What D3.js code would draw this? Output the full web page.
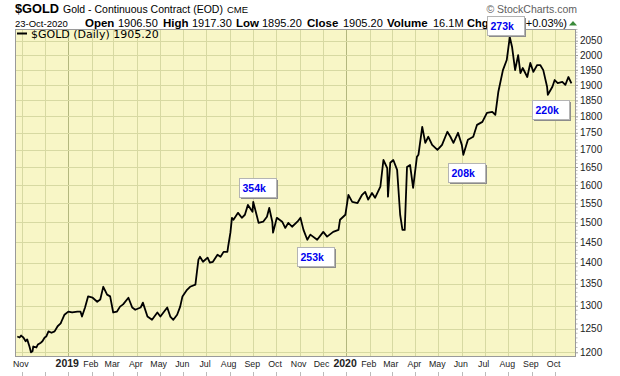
<!DOCTYPE html>
<html><head><meta charset="utf-8">
<script src="https://cdn.jsdelivr.net/npm/d3@7"></script>
<style>body{margin:0;background:#fff}svg{display:block}</style>
</head><body>
<svg id="c" width="620" height="376"></svg>
<script>
// ---- data ----
const dates = ["2018-10-26","2018-10-29","2018-10-31","2018-11-03","2018-11-06","2018-11-08","2018-11-11","2018-11-13","2018-11-15","2018-11-16","2018-11-20","2018-11-22","2018-11-26","2018-11-28","2018-12-01","2018-12-03","2018-12-06","2018-12-10","2018-12-14","2018-12-18","2018-12-22","2018-12-24","2018-12-27",
"2019-01-01","2019-01-06","2019-01-13","2019-01-17","2019-01-19","2019-01-23","2019-01-27","2019-02-02","2019-02-08","2019-02-12","2019-02-15","2019-02-16","2019-02-21","2019-02-25","2019-03-01","2019-03-06","2019-03-10","2019-03-14","2019-03-21","2019-03-26","2019-03-30","2019-04-06","2019-04-09","2019-04-15","2019-04-21","2019-04-28","2019-05-02","2019-05-06","2019-05-11","2019-05-15","2019-05-19","2019-05-24","2019-05-28","2019-05-31","2019-06-06","2019-06-10","2019-06-17","2019-06-19","2019-06-21","2019-06-23","2019-06-27","2019-07-03","2019-07-06","2019-07-10","2019-07-16","2019-07-20","2019-07-24","2019-07-29","2019-07-30","2019-08-02","2019-08-04","2019-08-06","2019-08-12","2019-08-17","2019-08-21","2019-08-25","2019-08-31","2019-09-01","2019-09-06","2019-09-08","2019-09-14","2019-09-19","2019-09-22","2019-09-26","2019-09-27","2019-10-02","2019-10-09","2019-10-13","2019-10-17","2019-10-22","2019-10-29","2019-11-02","2019-11-06","2019-11-11","2019-11-15","2019-11-24","2019-12-02","2019-12-07","2019-12-15","2019-12-22","2019-12-24","2019-12-31",
"2020-01-04","2020-01-09","2020-01-16","2020-01-22","2020-01-26","2020-01-30","2020-02-04","2020-02-08","2020-02-15","2020-02-19","2020-02-24","2020-02-25","2020-02-28","2020-03-03","2020-03-08","2020-03-12","2020-03-15","2020-03-18","2020-03-21","2020-03-25","2020-03-29","2020-04-03","2020-04-05","2020-04-10","2020-04-14","2020-04-18","2020-04-23","2020-04-30","2020-05-06","2020-05-13","2020-05-17","2020-05-21","2020-05-27","2020-06-01","2020-06-03","2020-06-09","2020-06-16","2020-06-21","2020-06-28","2020-07-04","2020-07-11","2020-07-15","2020-07-19","2020-07-25","2020-07-30","2020-08-03","2020-08-06","2020-08-10","2020-08-14","2020-08-17","2020-08-20","2020-08-26","2020-08-30","2020-09-03","2020-09-08","2020-09-12","2020-09-16","2020-09-21","2020-09-22","2020-09-28","2020-10-01","2020-10-05","2020-10-11","2020-10-15","2020-10-19","2020-10-23"];
const closes = [1233,1231,1235,1231,1223,1227,1212,1200,1202,1212,1210,1216,1220,1223,1231,1233,1244,1241,1244,1255,1261,1269,1280,
1287,1285,1287,1287,1276,1296,1321,1318,1309,1314,1336,1343,1325,1321,1285,1287,1298,1303,1318,1296,1291,1296,1307,1276,1269,1285,1276,1285,1296,1276,1269,1280,1298,1321,1336,1343,1348,1378,1407,1414,1402,1412,1400,1402,1419,1414,1426,1426,1439,1474,1512,1507,1525,1512,1520,1546,1528,1554,1515,1499,1502,1515,1538,1502,1474,1512,1502,1486,1499,1489,1502,1512,1481,1456,1469,1456,1476,1464,1476,1481,1507,1520,
1573,1554,1551,1573,1581,1560,1578,1565,1595,1670,1647,1568,1662,1670,1642,1520,1481,1481,1650,1656,1592,1679,1685,1768,1720,1738,1714,1699,1714,1753,1738,1720,1750,1714,1685,1729,1738,1774,1783,1811,1814,1805,1878,1949,1983,2063,2028,1949,2000,1939,1956,1926,1973,1943,1966,1966,1949,1894,1868,1894,1916,1906,1910,1900,1926,1905.2];

const yTicks = [1200,1250,1300,1350,1400,1450,1500,1550,1600,1650,1700,1750,1800,1850,1900,1950,2000,2050];
const monthTicks = ["2018-11-01","2018-12-01","2019-01-01","2019-02-01","2019-03-01","2019-04-01","2019-05-01","2019-06-01","2019-07-01","2019-08-01","2019-09-01","2019-10-01","2019-11-01","2019-12-01","2020-01-01","2020-02-01","2020-03-01","2020-04-01","2020-05-01","2020-06-01","2020-07-01","2020-08-01","2020-09-01","2020-10-01"];
const monthLabels = ["Nov","","2019","Feb","Mar","Apr","May","Jun","Jul","Aug","Sep","Oct","Nov","Dec","2020","Feb","Mar","Apr","May","Jun","Jul","Aug","Sep","Oct"];

const volLabels = ["354k","253k","208k","273k","220k"];
const volDates  = ["2019-09-06","2019-11-22","2020-06-07","2020-07-28","2020-09-25"];
const volLevels = [1568,1438,1662,2070,1852];
const volSides  = ["above","below","below","above","below"];

// ---- layout ----
const L=15, R=576, T=29, B=357;
const parse = d3.utcParse("%Y-%m-%d");
const data = dates.map((d,i)=>({date:parse(d), v:closes[i]}));

const svg = d3.select("#c");
const x = d3.scaleUtc().domain([parse("2018-10-23"), parse("2020-10-29")]).range([L,R]);
const y = d3.scaleLog().domain([1200,2050]).range([352.3,40.7]);

const BG="#f8f6c6", GRID="#d7d9a2", YEARGRID="#b3b77e";

svg.append("rect").attr("x",L).attr("y",T).attr("width",R-L).attr("height",B-T).attr("fill",BG);

// grid
const mt = monthTicks.map(parse);
svg.append("g").selectAll("line").data(mt).join("line")
  .attr("x1",d=>Math.round(x(d))+0.5).attr("x2",d=>Math.round(x(d))+0.5)
  .attr("y1",T).attr("y2",B)
  .attr("stroke",d=>d.getUTCMonth()===0?YEARGRID:GRID).attr("stroke-width",1);
svg.append("g").selectAll("line").data(yTicks).join("line")
  .attr("x1",L).attr("x2",R)
  .attr("y1",d=>Math.round(y(d))+0.5).attr("y2",d=>Math.round(y(d))+0.5)
  .attr("stroke",GRID).attr("stroke-width",1);

// border
svg.append("rect").attr("x",L+0.5).attr("y",T+0.5).attr("width",R-L-1).attr("height",B-T-1)
  .attr("fill","none").attr("stroke","#9a9a9a");

// right axis
const yAxis = d3.axisRight(y).tickValues(yTicks).tickFormat(d3.format("d")).tickSize(2).tickPadding(2);
const ga = svg.append("g").attr("transform",`translate(${R},0)`).call(yAxis);
ga.select(".domain").remove();
ga.selectAll("line").attr("stroke","#999");
ga.selectAll("text").attr("font-family","'Liberation Sans',Arial,sans-serif").attr("font-size",10).attr("fill","#222");
// minor ticks
const minor = d3.range(1200,2091,10).filter(v=>v%50!==0);
svg.append("g").selectAll("line").data(minor).join("line")
  .attr("x1",R).attr("x2",R+1.5).attr("y1",d=>y(d)).attr("y2",d=>y(d)).attr("stroke","#bbb");

// bottom axis labels
const gx = svg.append("g");
gx.selectAll("text").data(mt).join("text")
  .attr("x",d=>x(d)-1).attr("y",367.3).attr("text-anchor","middle")
  .attr("font-family","'Liberation Sans',Arial,sans-serif")
  .attr("font-size",(d,i)=>/^\d{4}$/.test(monthLabels[i])?10.5:8.8)
  .attr("font-weight",(d,i)=>/^\d{4}$/.test(monthLabels[i])?"bold":"normal")
  .attr("fill","#222")
  .text((d,i)=>monthLabels[i]);
gx.selectAll("line").data(mt).join("line")
  .attr("x1",d=>Math.round(x(d))+0.5).attr("x2",d=>Math.round(x(d))+0.5)
  .attr("y1",372).attr("y2",376).attr("stroke","#bbb");

// price line
svg.append("defs").append("clipPath").attr("id","clp").append("rect")
  .attr("x",L).attr("y",T).attr("width",R-L).attr("height",B-T);
svg.append("path").datum(data)
  .attr("clip-path","url(#clp)")
  .attr("d",d3.line().x(d=>x(d.date)).y(d=>y(d.v)))
  .attr("fill","none").attr("stroke","#000").attr("stroke-width",1.8).attr("stroke-linejoin","round");

// legend
svg.append("line").attr("x1",17).attr("x2",27).attr("y1",33.5).attr("y2",33.5).attr("stroke","#000").attr("stroke-width",2);
svg.append("text").attr("x",31).attr("y",37.5)
  .attr("font-family","'DejaVu Sans',Verdana,sans-serif").attr("font-size",11).attr("fill","#000")
  .text("$GOLD (Daily) 1905.20");

// header
const AR="'Liberation Sans',Arial,sans-serif";
function t(xp,yp,s,size,weight,fill,anchor){
  return svg.append("text").attr("x",xp).attr("y",yp).attr("font-family",AR).attr("font-size",size)
   .attr("font-weight",weight||"normal").attr("fill",fill||"#000").attr("text-anchor",anchor||"start").text(s);
}
t(15,13.3,"$GOLD",12.8,"bold");
t(63,13,"Gold - Continuous Contract (EOD)",10.5);
t(227,13,"CME",9.5);
t(15,26.5,"23-Oct-2020",9.5);
t(85,26.5,"Open",11.5,"bold"); t(118,26.5,"1906.50",11);
t(163,26.5,"High",11.5,"bold"); t(192,26.5,"1917.30",11);
t(236,26.5,"Low",11.5,"bold"); t(262,26.5,"1895.20",11);
t(307,26.5,"Close",11.5,"bold"); t(343,26.5,"1905.20",11);
t(387,26.5,"Volume",11.5,"bold"); t(433,26.5,"16.1M",11);
t(467,26.5,"Chg",11,"bold"); t(567,26.5,"(+0.03%)",11,"normal","#000","end");
svg.append("path").attr("d","M569,25.5 L573,21 L577,25.5 Z").attr("fill","#3a8a3a");
t(577,12.7,"© StockCharts.com",10.5,"normal","#606060","end");

// volume annotation boxes
const bw=37, bh=19;
volLabels.forEach((lab,i)=>{
  const cx = x(parse(volDates[i]));
  const yy = y(volLevels[i]);
  const bx = Math.round(cx - bw/2)+0.5;
  const by = Math.round(volSides[i]==="above" ? yy - bh : yy)+0.5;
  const g = svg.append("g");
  g.append("rect").attr("x",bx+1.5).attr("y",by+1.5).attr("width",bw).attr("height",bh).attr("fill","#8c8c8c");
  g.append("rect").attr("x",bx).attr("y",by).attr("width",bw).attr("height",bh).attr("fill","#fff").attr("stroke","#b4b4b4");
  g.append("text").attr("x",bx+3).attr("y",by+13).attr("font-family",AR).attr("font-size",10.5)
   .attr("font-weight","bold").attr("fill","#0000ee").text(lab);
});
</script>
</body></html>
